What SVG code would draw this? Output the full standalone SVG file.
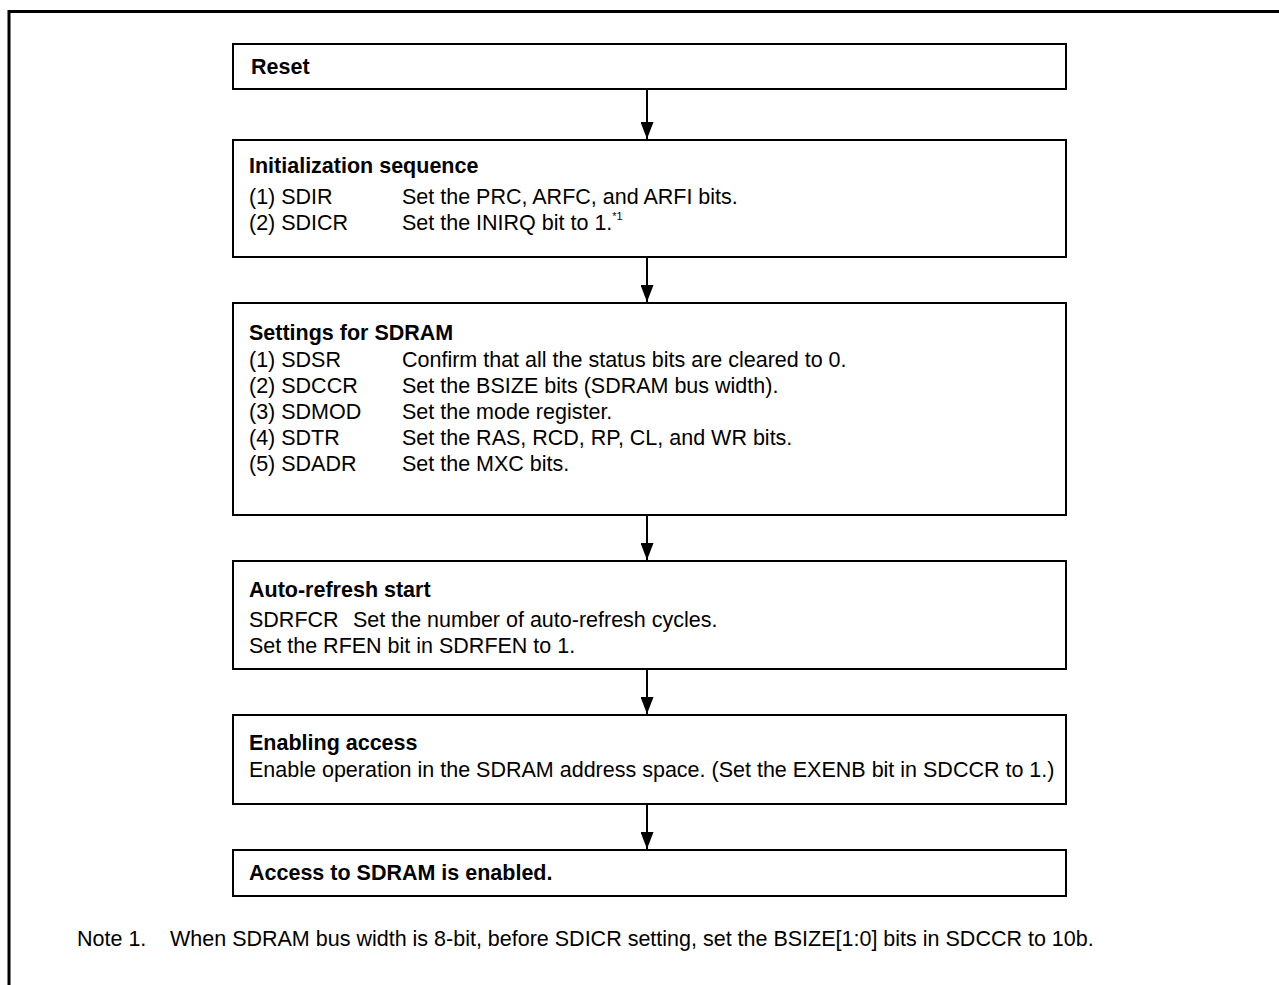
<svg xmlns="http://www.w3.org/2000/svg" width="1279" height="985" viewBox="0 0 1279 985">
<style>
.box{fill:#fff;stroke:#000;stroke-width:2}
.t{font-family:"Liberation Sans",Arial,sans-serif;font-size:21.5px;fill:#000}
.b{font-weight:bold}
.frame{stroke:#000;stroke-width:3;fill:none}
.conn{stroke:#000;stroke-width:2;fill:none}
</style>
<defs>
<marker id="ah" markerWidth="17" markerHeight="13" refX="17" refY="6.5" orient="auto" markerUnits="userSpaceOnUse" viewBox="0 0 17 13">
<path d="M0,0 L17,6.5 L0,13 Z" fill="#000"/>
</marker>
</defs>
<rect width="1279" height="985" fill="#fff"/>
<path class="frame" d="M9,985 V11.5 H1279"/>
<g id="connectors">
<line class="conn" x1="647" y1="89" x2="647" y2="139" marker-end="url(#ah)"/>
<line class="conn" x1="647" y1="258" x2="647" y2="302" marker-end="url(#ah)"/>
<line class="conn" x1="647" y1="516" x2="647" y2="560" marker-end="url(#ah)"/>
<line class="conn" x1="647" y1="670" x2="647" y2="714" marker-end="url(#ah)"/>
<line class="conn" x1="647" y1="805" x2="647" y2="849" marker-end="url(#ah)"/>
</g>
<g id="reset">
<rect class="box" x="233" y="44" width="833" height="45"/>
<text class="t b" x="251" y="74">Reset</text>
</g>
<g id="init">
<rect class="box" x="233" y="140" width="833" height="117"/>
<text class="t b" x="249" y="173">Initialization sequence</text>
<text class="t" x="249" y="204">(1) SDIR</text>
<text class="t" x="402" y="204">Set the PRC, ARFC, and ARFI bits.</text>
<text class="t" x="249" y="230">(2) SDICR</text>
<text class="t" x="402" y="230">Set the INIRQ bit to 1.<tspan font-size="11" dy="-10">*1</tspan></text>
</g>
<g id="settings">
<rect class="box" x="233" y="303" width="833" height="212"/>
<text class="t b" x="249" y="340">Settings for SDRAM</text>
<text class="t" x="249" y="367">(1) SDSR</text>
<text class="t" x="402" y="367">Confirm that all the status bits are cleared to 0.</text>
<text class="t" x="249" y="393">(2) SDCCR</text>
<text class="t" x="402" y="393">Set the BSIZE bits (SDRAM bus width).</text>
<text class="t" x="249" y="419">(3) SDMOD</text>
<text class="t" x="402" y="419">Set the mode register.</text>
<text class="t" x="249" y="445">(4) SDTR</text>
<text class="t" x="402" y="445">Set the RAS, RCD, RP, CL, and WR bits.</text>
<text class="t" x="249" y="471">(5) SDADR</text>
<text class="t" x="402" y="471">Set the MXC bits.</text>
</g>
<g id="autorefresh">
<rect class="box" x="233" y="561" width="833" height="108"/>
<text class="t b" x="249" y="597">Auto-refresh start</text>
<text class="t" x="249" y="627">SDRFCR</text>
<text class="t" x="353" y="627">Set the number of auto-refresh cycles.</text>
<text class="t" x="249" y="653">Set the RFEN bit in SDRFEN to 1.</text>
</g>
<g id="enabling">
<rect class="box" x="233" y="715" width="833" height="89"/>
<text class="t b" x="249" y="750">Enabling access</text>
<text class="t" x="249" y="777">Enable operation in the SDRAM address space. (Set the EXENB bit in SDCCR to 1.)</text>
</g>
<g id="access">
<rect class="box" x="233" y="850" width="833" height="46"/>
<text class="t b" x="249" y="880">Access to SDRAM is enabled.</text>
</g>
<g id="note">
<text class="t" x="77" y="946">Note 1.</text>
<text class="t" x="170" y="946">When SDRAM bus width is 8-bit, before SDICR setting, set the BSIZE[1:0] bits in SDCCR to 10b.</text>
</g>
</svg>
